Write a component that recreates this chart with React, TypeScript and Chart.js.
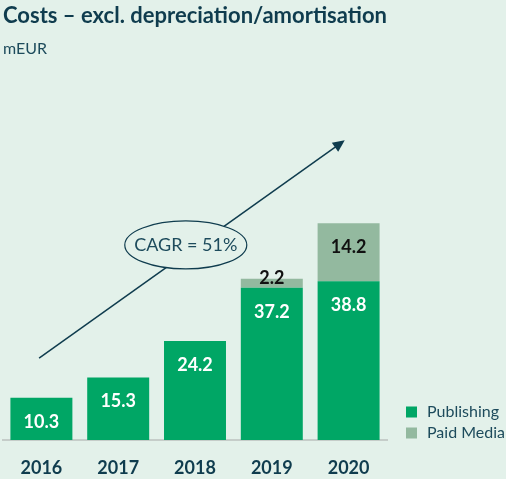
import React, { useEffect, useRef } from "react";
import { Chart, registerables } from "chart.js";

Chart.register(...registerables);

// ---- data ----
const years = ["2016", "2017", "2018", "2019", "2020"];
const publishing = [10.3, 15.3, 24.2, 37.2, 38.8];
const paidMedia = [null, null, null, 2.2, 14.2];
const seriesNames = ["Publishing", "Paid Media"];
const titleText = "Costs – excl. depreciation/amortisation";
const unitText = "mEUR";
const cagrText = "CAGR = 51%";
// annotation anchors in data space (category index, value)
const arrowFrom = { x: -0.03, y: 20.0 };
const arrowTo = { x: 3.95, y: 73.3 };
const cagrAt = { x: 1.88, y: 47.7 };

const BG = "#e3f1ea";
const GREEN = "#00a665";
const PAID = "#93b99f";
const DARK = "#0f3c4e";
const TEXT = "#1d4b5c";
const FONT = "Lato, 'Open Sans', sans-serif";

const overlay = {
  id: "overlay",
  afterDatasetsDraw(chart: any) {
    const ctx = chart.ctx as CanvasRenderingContext2D;
    const xs = chart.scales.x;
    const ys = chart.scales.y;
    const area = chart.chartArea;

    // value labels
    chart.data.datasets.forEach((ds: any, di: number) => {
      const meta = chart.getDatasetMeta(di);
      meta.data.forEach((el: any, i: number) => {
        const v = ds.data[i];
        if (v == null) return;
        const { x, y, base } = el.getProps(["x", "y", "base"], true);
        const h = base - y;
        ctx.save();
        ctx.font = `bold 18px ${FONT}`;
        ctx.textAlign = "center";
        ctx.textBaseline = "middle";
        ctx.fillStyle = di === 0 ? "#ffffff" : "#111111";
        const ty = h > 30 ? y + 24 : y - 1;
        ctx.fillText(v.toFixed(1), x, ty);
        ctx.restore();
      });
    });

    // arrow
    const x1 = xs.getPixelForValue(arrowFrom.x);
    const y1 = ys.getPixelForValue(arrowFrom.y);
    const x2 = xs.getPixelForValue(arrowTo.x);
    const y2 = ys.getPixelForValue(arrowTo.y);
    const ang = Math.atan2(y2 - y1, x2 - x1);
    const headLen = 12;
    const headW = 5.5;
    ctx.save();
    ctx.strokeStyle = DARK;
    ctx.fillStyle = DARK;
    ctx.lineWidth = 1.5;
    ctx.beginPath();
    ctx.moveTo(x1, y1);
    ctx.lineTo(x2 - Math.cos(ang) * headLen * 0.8, y2 - Math.sin(ang) * headLen * 0.8);
    ctx.stroke();
    ctx.beginPath();
    ctx.moveTo(x2, y2);
    const bx = x2 - Math.cos(ang) * headLen;
    const by = y2 - Math.sin(ang) * headLen;
    ctx.lineTo(bx + Math.sin(ang) * headW, by - Math.cos(ang) * headW);
    ctx.lineTo(bx - Math.sin(ang) * headW, by + Math.cos(ang) * headW);
    ctx.closePath();
    ctx.fill();

    // CAGR ellipse
    const cx = xs.getPixelForValue(cagrAt.x);
    const cy = ys.getPixelForValue(cagrAt.y);
    ctx.beginPath();
    ctx.ellipse(cx, cy, 61, 24, 0, 0, Math.PI * 2);
    ctx.fillStyle = BG;
    ctx.fill();
    ctx.lineWidth = 1.2;
    ctx.strokeStyle = DARK;
    ctx.stroke();
    ctx.font = `18px ${FONT}`;
    ctx.fillStyle = TEXT;
    ctx.textAlign = "center";
    ctx.textBaseline = "middle";
    ctx.fillText(cagrText, cx, cy);
    ctx.restore();

    // legend
    ctx.save();
    chart.data.datasets.forEach((ds: any, di: number) => {
      const lx = area.right + 19;
      const ly = area.bottom - 33.5 + di * 21;
      ctx.fillStyle = ds.backgroundColor;
      ctx.fillRect(lx, ly, 11, 11);
      ctx.font = `16px ${FONT}`;
      ctx.fillStyle = TEXT;
      ctx.textAlign = "left";
      ctx.textBaseline = "middle";
      ctx.fillText(ds.label, lx + 21, ly + 5.5);
    });
    ctx.restore();
  },
};

export default function App() {
  const ref = useRef<HTMLCanvasElement | null>(null);

  useEffect(() => {
    document.body.style.margin = "0";
    const canvas = ref.current;
    if (!canvas) return;
    const chart = new Chart(canvas, {
      type: "bar",
      data: {
        labels: years,
        datasets: [
          {
            label: seriesNames[0],
            data: publishing,
            backgroundColor: GREEN,
            borderWidth: 0,
            categoryPercentage: 1,
            barPercentage: 0.807,
          },
          {
            label: seriesNames[1],
            data: paidMedia as any,
            backgroundColor: PAID,
            borderWidth: 0,
            categoryPercentage: 1,
            barPercentage: 0.807,
          },
        ],
      },
      options: {
        animation: false,
        responsive: true,
        maintainAspectRatio: false,
        layout: { padding: { left: 3, right: 119, top: 0, bottom: 0 } },
        plugins: {
          legend: { display: false },
          tooltip: { enabled: false },
          title: {
            display: true,
            text: titleText,
            align: "start",
            color: DARK,
            font: { family: FONT, size: 22.5, weight: "bold" },
            padding: { top: 2, bottom: 0 },
          },
          subtitle: {
            display: true,
            text: unitText,
            align: "start",
            color: TEXT,
            font: { family: FONT, size: 16, weight: "normal" },
            padding: { top: 10.4, bottom: 54.2 },
          },
        },
        scales: {
          x: {
            stacked: true,
            grid: { display: false, drawTicks: false },
            border: { display: true, color: "#c5cdc9", width: 2 },
            ticks: {
              color: DARK,
              font: { family: FONT, size: 18, weight: "bold" },
              padding: 17,
            },
            afterFit: (scale: any) => {
              scale.height = 39;
            },
          },
          y: {
            stacked: true,
            display: false,
            min: 0,
            max: 80,
          },
        },
      },
      plugins: [overlay],
    });
    return () => chart.destroy();
  }, []);

  return (
    <div style={{ width: 506, height: 479, background: BG, position: "relative" }}>
      <canvas ref={ref} />
    </div>
  );
}
